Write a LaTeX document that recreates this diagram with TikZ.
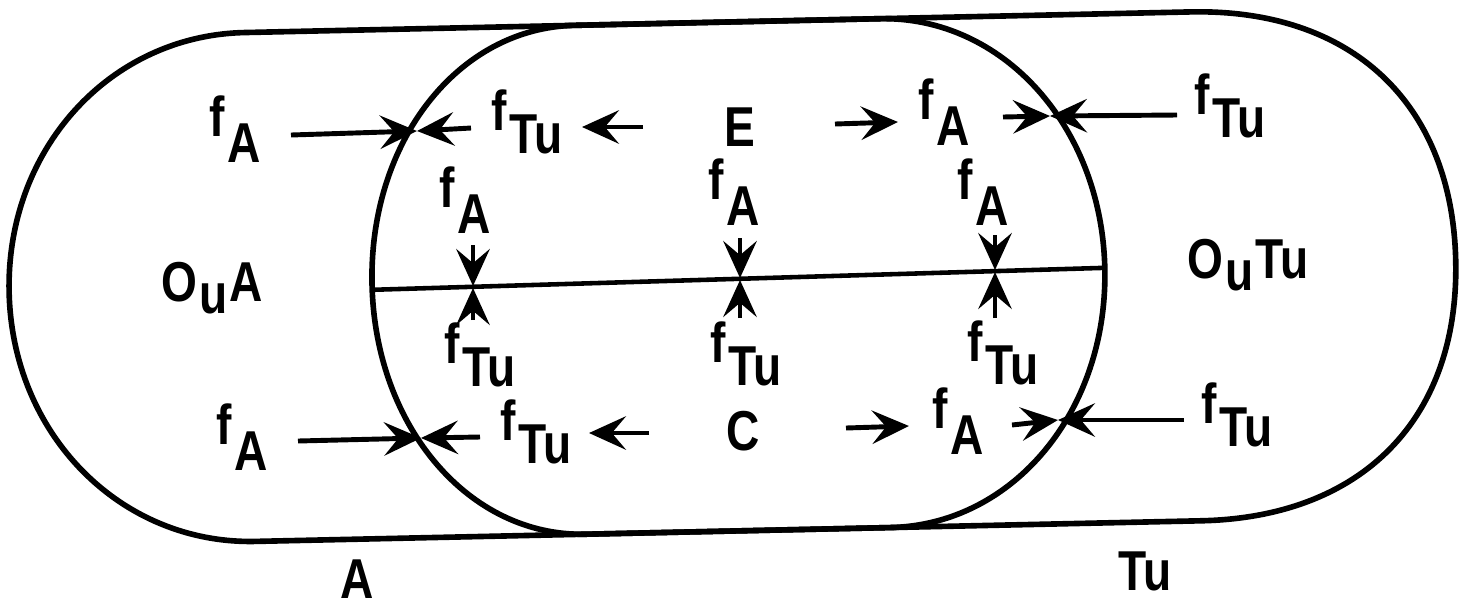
\documentclass[tikz,border=0pt]{standalone}
\usepackage{fontspec}
\usetikzlibrary{arrows.meta}
\newfontfamily\labfont{Liberation Sans}[FakeStretch=0.82]
\newcommand\lowr[1]{\kern0.05em\raisebox{-0.45em}{#1}}
\newcommand\lowt[1]{\kern0.05em\raisebox{-0.4em}{#1}}
\newcommand\lowu[1]{\kern0.04em\raisebox{-0.22em}{#1}\kern0.04em}
\begin{document}
\begin{tikzpicture}[x=0.02cm,y=-0.02cm,
  lab/.style={inner sep=0pt,font=\labfont\bfseries\fontsize{32}{36}\selectfont},
  arr/.style={line width=2.8pt,-{Stealth[length=21pt,width=19pt,inset=8pt]}},
  outline/.style={line width=3.2pt,line join=round}]
\useasboundingbox (0,0) rectangle (1461,610);
% outlines (slightly tilted, as in the scan)
\begin{scope}[rotate around={1.25:(730,280)}]
\draw[outline] (250,22) -- (885,22) .. controls (1008,22) and (1105,134) .. (1105,276.5)
  .. controls (1105,419) and (1008,531) .. (885,531) -- (250,531)
  .. controls (115,531) and (9,419) .. (9,276.5) .. controls (9,134) and (115,22) .. (250,22) -- cycle;
\draw[outline] (580,22) -- (1196,22) .. controls (1357,22) and (1456,118.5) .. (1456,276.5)
  .. controls (1456,434.5) and (1357,531) .. (1196,531) -- (580,531)
  .. controls (463.5,531) and (372,419) .. (372,276.5) .. controls (372,134) and (463.5,22) .. (580,22) -- cycle;
\draw[line width=2.6pt] (372,282) -- (1105,276);
\end{scope}
% labels
\node[lab] (fA1) at (235,129) {f\lowr{A}};
\node[lab] (fT1) at (527,122) {f\lowt{Tu}};
\node[lab] (E)   at (740,127) {E};
\node[lab] (fA2) at (944,112) {f\lowr{A}};
\node[lab] (fT2) at (1230,106) {f\lowt{Tu}};
\node[lab] (fA3) at (465,200) {f\lowr{A}};
\node[lab] (fA4) at (734,192) {f\lowr{A}};
\node[lab] (fA5) at (983,192) {f\lowr{A}};
\node[lab] (fT3) at (480,355) {f\lowt{Tu}};
\node[lab] (fT4) at (746,354) {f\lowt{Tu}};
\node[lab] (fT5) at (1003,353) {f\lowt{Tu}};
\node[lab] (fA6) at (242,437) {f\lowr{A}};
\node[lab] (fT6) at (536,432) {f\lowt{Tu}};
\node[lab] (C)   at (743,431) {C};
\node[lab] (fA7) at (958,421) {f\lowr{A}};
\node[lab] (fT7) at (1237,415) {f\lowt{Tu}};
\node[lab] (OA)  at (212,288) {O\lowu{u}A};
\node[lab] (OT)  at (1248,265) {O\lowu{u}Tu};
\node[lab] (lA)  at (357,579) {A};
\node[lab] (lT)  at (1145,571) {Tu};
% arrow end points
\coordinate (P1) at (417,131);
\coordinate (P2) at (1050,116);
\coordinate (P3) at (421,438);
\coordinate (P4) at (1058,420);
\coordinate (a1) at (291,135);
\coordinate (a2) at (471,128);
\coordinate (a3s) at (643,127); \coordinate (a3e) at (582,127);
\coordinate (a4s) at (835,124); \coordinate (a4e) at (898,122);
\coordinate (a5) at (1003,117);
\coordinate (a6) at (1177,115);
\coordinate (a7) at (298,441);
\coordinate (a8) at (480,437);
\coordinate (a9s) at (649,433); \coordinate (a9e) at (589,433);
\coordinate (a10s) at (846,428); \coordinate (a10e) at (909,426);
\coordinate (a11) at (1012,425);
\coordinate (a12) at (1184,420);
\coordinate (v1s) at (473,245); \coordinate (v1e) at (473,286);
\coordinate (v2s) at (473,320); \coordinate (v2e) at (473,288);
\coordinate (v3s) at (740,238); \coordinate (v3e) at (740,278);
\coordinate (v4s) at (740,318); \coordinate (v4e) at (740,280);
\coordinate (v5s) at (995,235); \coordinate (v5e) at (995,270);
\coordinate (v6s) at (995,318); \coordinate (v6e) at (995,272);
% arrows
\draw[arr] (a1) -- (P1);
\draw[arr] (a2) -- (P1);
\draw[arr] (a3s) -- (a3e);
\draw[arr] (a4s) -- (a4e);
\draw[arr] (a5) -- (P2);
\draw[arr] (a6) -- (P2);
\draw[arr] (a7) -- (P3);
\draw[arr] (a8) -- (P3);
\draw[arr] (a9s) -- (a9e);
\draw[arr] (a10s) -- (a10e);
\draw[arr] (a11) -- (P4);
\draw[arr] (a12) -- (P4);
\draw[arr] (v1s) -- (v1e);
\draw[arr] (v2s) -- (v2e);
\draw[arr] (v3s) -- (v3e);
\draw[arr] (v4s) -- (v4e);
\draw[arr] (v5s) -- (v5e);
\draw[arr] (v6s) -- (v6e);
\end{tikzpicture}
\end{document}
